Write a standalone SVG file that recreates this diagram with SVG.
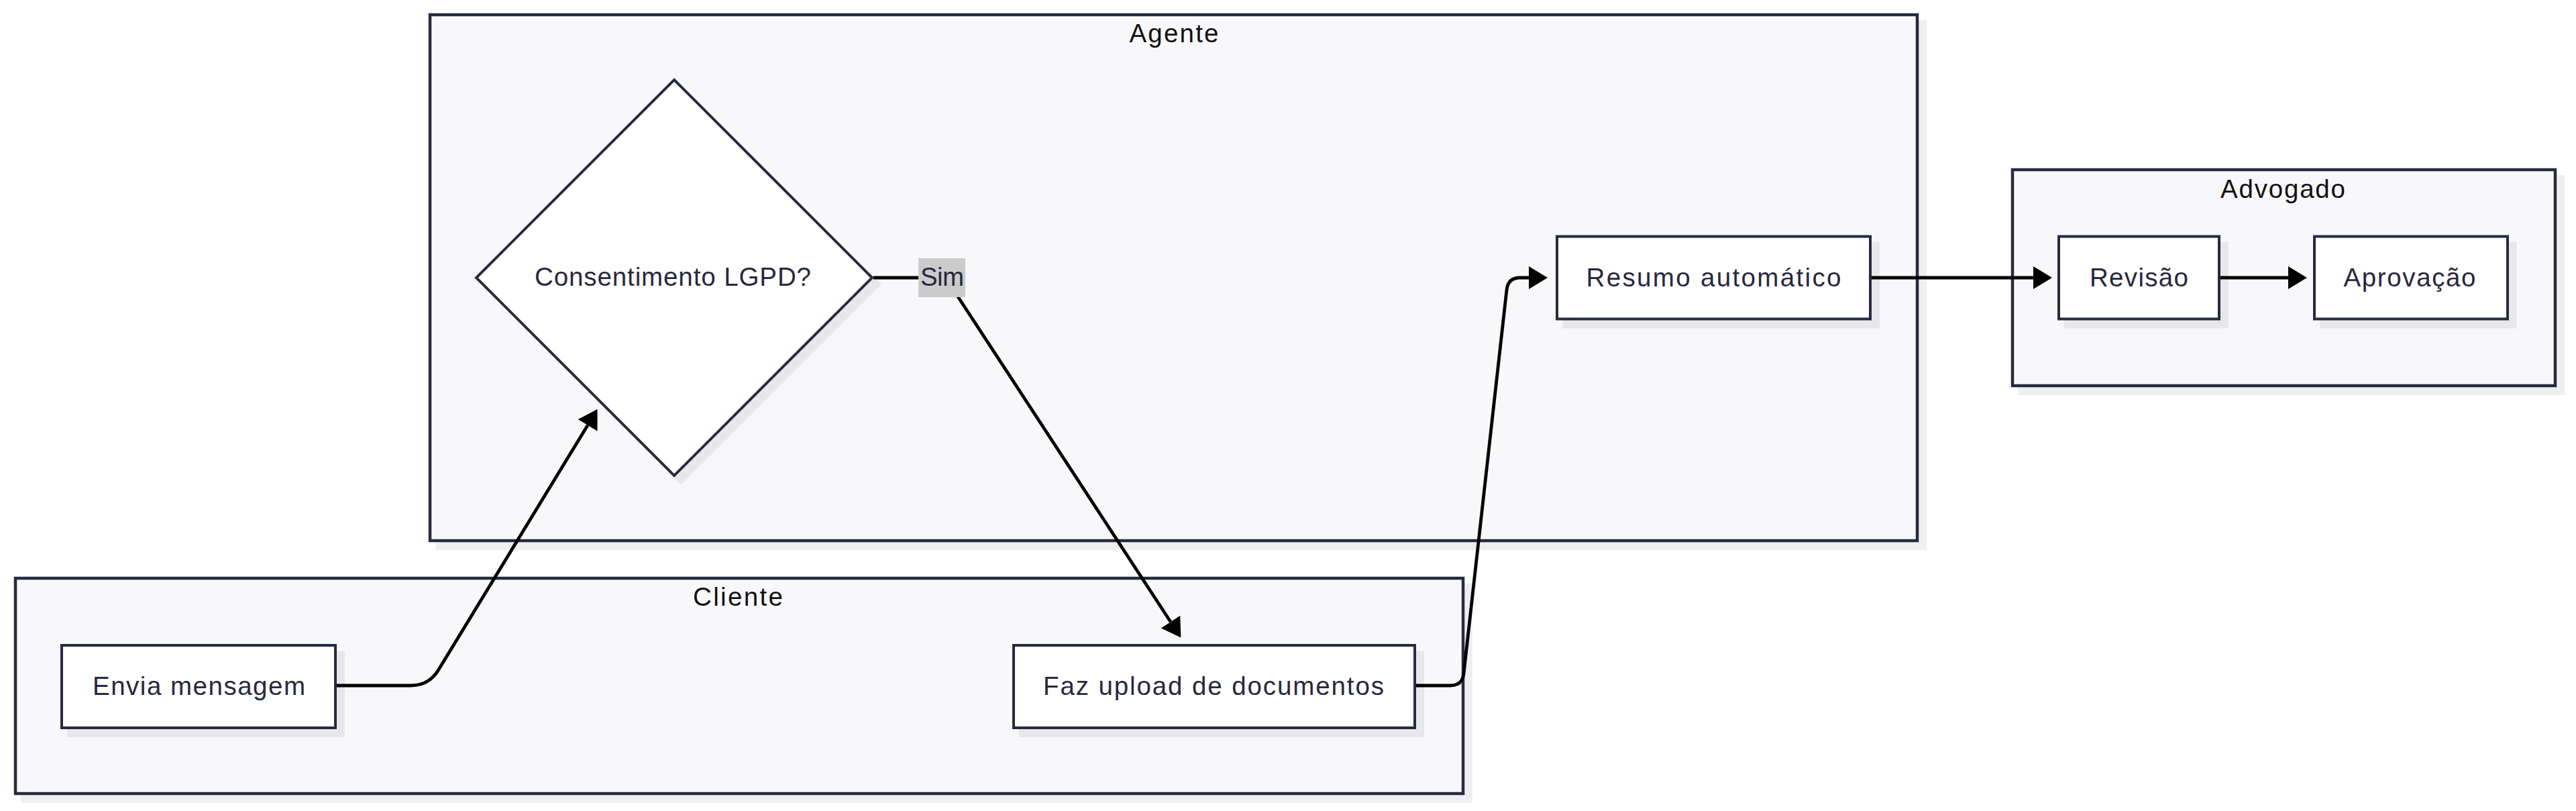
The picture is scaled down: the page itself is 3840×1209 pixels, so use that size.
<svg xmlns="http://www.w3.org/2000/svg" width="3840" height="1209" viewBox="0 0 3840 1209">
<style>
.bg{fill:#ffffff}
.cl{fill:#f8f8fa;stroke:#272a3f;stroke-width:4.5}
.clsh{fill:#efeff1}
.nd{fill:#ffffff;stroke:#272a3f;stroke-width:4}
.ndsh{fill:#e8e8ec}
.t{font-family:"Liberation Sans","Noto Sans",Arial,sans-serif;font-size:38.5px;text-anchor:middle;fill:#28283d}
.ct{font-family:"Liberation Sans","Noto Sans",Arial,sans-serif;font-size:38.5px;text-anchor:middle;fill:#111111}
.e{fill:none;stroke:#000000;stroke-width:4.8;stroke-linejoin:round}
.lbl{fill:#cbcbcb}
</style>
<defs>
<marker id="arrow" viewBox="0 0 28 34" markerUnits="userSpaceOnUse" markerWidth="28" markerHeight="34" refX="0" refY="17" orient="auto">
<path d="M0,0 L28,17 L0,34 z" fill="#000000"/>
</marker>
</defs>
<rect class="bg" x="0" y="0" width="3840" height="1209"/>

<g id="cluster-agente">
<rect class="clsh" x="649" y="30" width="2223" height="790"/>
<rect class="cl" x="641" y="22" width="2217" height="784"/>
<text class="ct" x="1750" y="63" textLength="133" lengthAdjust="spacing">Agente</text>
</g>
<g id="cluster-cliente">
<rect class="clsh" x="31" y="870" width="2164" height="327"/>
<rect class="cl" x="23" y="862" width="2158" height="321"/>
<text class="ct" x="1100" y="903" textLength="134" lengthAdjust="spacing">Cliente</text>
</g>
<g id="cluster-advogado">
<rect class="clsh" x="3008" y="261" width="815" height="328"/>
<rect class="cl" x="3000" y="253" width="809" height="322"/>
<text class="ct" x="3403" y="295" textLength="186" lengthAdjust="spacing">Advogado</text>
</g>

<g id="node-envia">
<rect class="ndsh" x="100" y="970" width="414" height="129"/>
<rect class="nd" x="92" y="962" width="408" height="123"/>
<text class="t" x="296.5" y="1036" textLength="317" lengthAdjust="spacing">Envia mensagem</text>
</g>
<g id="node-upload">
<rect class="ndsh" x="1519" y="970" width="604" height="129"/>
<rect class="nd" x="1511" y="962" width="598" height="123"/>
<text class="t" x="1809" y="1036" textLength="508" lengthAdjust="spacing">Faz upload de documentos</text>
</g>
<g id="node-consentimento">
<polygon class="ndsh" points="1015,125 1314,424 1015,723 718,424"/>
<polygon class="nd" points="1005,119 1300,414 1005,709 710,414"/>
<text class="t" x="1003" y="426" textLength="412" lengthAdjust="spacing">Consentimento LGPD?</text>
</g>
<g id="node-resumo">
<rect class="ndsh" x="2329" y="360.5" width="473" height="129"/>
<rect class="nd" x="2321" y="352.5" width="467" height="123"/>
<text class="t" x="2554.5" y="426.5" textLength="380" lengthAdjust="spacing">Resumo automático</text>
</g>
<g id="node-revisao">
<rect class="ndsh" x="3077" y="360.5" width="245" height="129"/>
<rect class="nd" x="3069" y="352.5" width="239" height="123"/>
<text class="t" x="3188.5" y="426.5" textLength="147" lengthAdjust="spacing">Revisão</text>
</g>
<g id="node-aprovacao">
<rect class="ndsh" x="3458" y="360.5" width="294" height="129"/>
<rect class="nd" x="3450" y="352.5" width="288" height="123"/>
<text class="t" x="3592" y="426.5" textLength="197" lengthAdjust="spacing">Aprovação</text>
</g>

<g id="edges">
<path class="e" d="M502,1022 L612,1022 Q640,1022 654,998 L876,634" marker-end="url(#arrow)"/>
<path class="e" d="M1302,414 L1398,414 Q1410,414 1416,424 L1745,927" marker-end="url(#arrow)"/>
<path class="e" d="M2111,1022 L2162,1022 Q2180,1022 2182,1004 L2246,432 Q2248,414 2266,414 L2279,414" marker-end="url(#arrow)"/>
<path class="e" d="M2790,414 L3031,414" marker-end="url(#arrow)"/>
<path class="e" d="M3310,414 L3411,414" marker-end="url(#arrow)"/>
</g>
<g id="edge-labels">
<rect class="lbl" x="1369" y="385" width="70" height="58"/>
<text class="t" x="1404.5" y="426" textLength="65" lengthAdjust="spacing">Sim</text>
</g>
</svg>
